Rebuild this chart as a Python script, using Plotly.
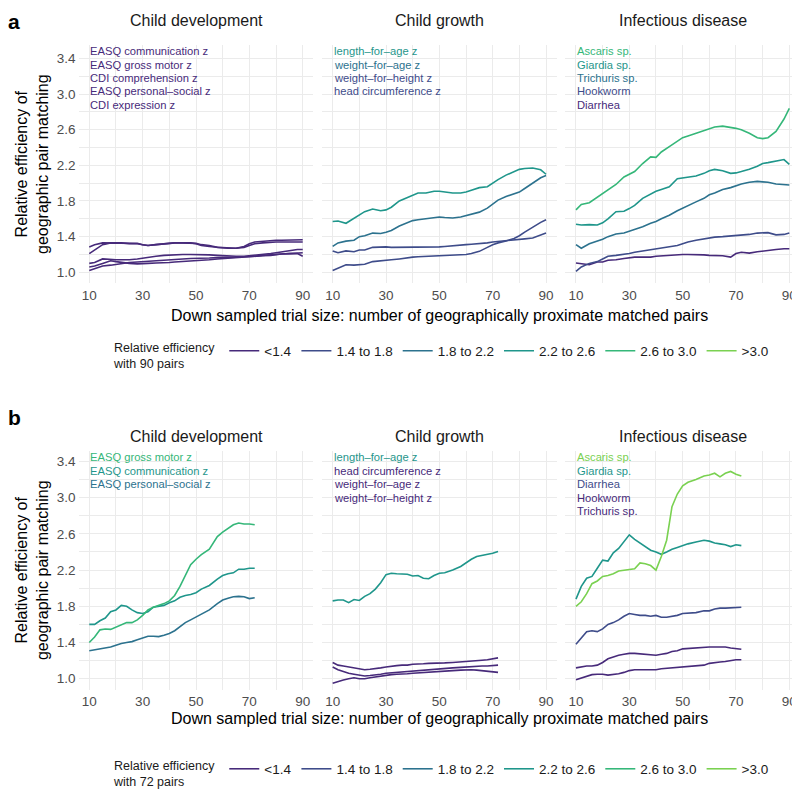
import plotly.graph_objects as go

# ---------------- data ----------------
CATEGORIES = ["<1.4", "1.4 to 1.8", "1.8 to 2.2", "2.2 to 2.6", "2.6 to 3.0", ">3.0"]
COLORS = ["#472a7a", "#3e4c8a", "#2c728e", "#1f968b", "#35b779", "#7ad151"]
FACETS = ["Child development", "Child growth", "Infectious disease"]
X_TICKS = [10, 30, 50, 70, 90]
Y_TICKS = [1.0, 1.4, 1.8, 2.2, 2.6, 3.0, 3.4]

# panel a: down-sampled from 90 pairs
X_A = [10, 12, 15, 18, 20, 22, 25, 28, 30, 32, 35, 38, 40, 42, 45, 48, 50, 52, 55, 58,
       60, 62, 65, 68, 70, 72, 75, 78, 80, 82, 85, 88, 90]

a_dev_comm = [1.285, 1.31, 1.33, 1.33, 1.33, 1.33, 1.33, 1.325, 1.31, 1.30, 1.31, 1.32, 1.325, 1.33, 1.33, 1.33, 1.325, 1.31, 1.30, 1.28,
              1.275, 1.275, 1.27, 1.29, 1.32, 1.34, 1.35, 1.355, 1.36, 1.36, 1.36, 1.365, 1.365]
a_dev_gross = [1.21, 1.25, 1.31, 1.33, 1.33, 1.33, 1.32, 1.32, 1.31, 1.30, 1.31, 1.32, 1.33, 1.33, 1.33, 1.33, 1.32, 1.30, 1.29, 1.28,
               1.275, 1.27, 1.27, 1.28, 1.30, 1.32, 1.33, 1.34, 1.34, 1.34, 1.34, 1.345, 1.34]
a_dev_cdicomp = [1.10, 1.11, 1.15, 1.14, 1.14, 1.14, 1.14, 1.15, 1.16, 1.17, 1.18, 1.19, 1.195, 1.20, 1.20, 1.20, 1.20, 1.20, 1.195, 1.19,
                 1.185, 1.18, 1.18, 1.18, 1.185, 1.19, 1.20, 1.21, 1.22, 1.23, 1.245, 1.255, 1.255]
a_dev_personal = [1.02, 1.04, 1.07, 1.08, 1.09, 1.10, 1.11, 1.115, 1.12, 1.125, 1.13, 1.135, 1.14, 1.145, 1.15, 1.155, 1.155, 1.16, 1.16, 1.165,
                  1.165, 1.17, 1.17, 1.175, 1.175, 1.18, 1.19, 1.20, 1.20, 1.205, 1.21, 1.215, 1.22]
a_dev_cdiexpr = [1.06, 1.07, 1.10, 1.13, 1.12, 1.11, 1.10, 1.095, 1.095, 1.10, 1.105, 1.105, 1.11, 1.115, 1.12, 1.13, 1.13, 1.135, 1.14, 1.15,
                 1.155, 1.16, 1.165, 1.17, 1.175, 1.18, 1.185, 1.19, 1.20, 1.205, 1.21, 1.21, 1.18]

a_gro_lfa = [1.57, 1.575, 1.55, 1.61, 1.65, 1.68, 1.71, 1.69, 1.70, 1.73, 1.80, 1.84, 1.86, 1.89, 1.89, 1.91, 1.91, 1.90, 1.89, 1.89,
             1.90, 1.92, 1.95, 1.96, 2.00, 2.04, 2.09, 2.13, 2.155, 2.165, 2.17, 2.15, 2.10]
a_gro_wfa = [1.29, 1.33, 1.35, 1.36, 1.40, 1.41, 1.44, 1.435, 1.45, 1.47, 1.52, 1.56, 1.58, 1.59, 1.60, 1.61, 1.62, 1.615, 1.61, 1.62,
             1.635, 1.65, 1.675, 1.72, 1.77, 1.81, 1.85, 1.88, 1.90, 1.94, 2.00, 2.06, 2.085]
a_gro_wfh = [1.02, 1.045, 1.085, 1.08, 1.085, 1.09, 1.12, 1.125, 1.135, 1.14, 1.15, 1.165, 1.17, 1.175, 1.18, 1.185, 1.19, 1.19, 1.19, 1.195,
             1.20, 1.21, 1.235, 1.28, 1.31, 1.33, 1.35, 1.38, 1.41, 1.45, 1.51, 1.56, 1.59]
a_gro_hc = [1.24, 1.22, 1.24, 1.23, 1.25, 1.25, 1.28, 1.285, 1.285, 1.28, 1.28, 1.28, 1.28, 1.28, 1.28, 1.285, 1.285, 1.29, 1.295, 1.30,
            1.31, 1.315, 1.32, 1.33, 1.34, 1.345, 1.35, 1.36, 1.37, 1.375, 1.385, 1.415, 1.44]

a_inf_ascaris = [1.70, 1.76, 1.78, 1.84, 1.89, 1.93, 1.985, 2.07, 2.10, 2.13, 2.22, 2.295, 2.29, 2.35, 2.41, 2.465, 2.51, 2.53, 2.56, 2.59,
                 2.615, 2.63, 2.64, 2.63, 2.615, 2.60, 2.56, 2.51, 2.50, 2.51, 2.58, 2.72, 2.84]
a_inf_giardia = [1.54, 1.53, 1.535, 1.53, 1.555, 1.60, 1.68, 1.685, 1.715, 1.75, 1.83, 1.88, 1.91, 1.93, 1.96, 2.05, 2.06, 2.07, 2.08, 2.11,
                 2.14, 2.155, 2.14, 2.11, 2.115, 2.13, 2.155, 2.19, 2.22, 2.23, 2.245, 2.265, 2.21]
a_inf_trichuris = [1.31, 1.27, 1.32, 1.35, 1.37, 1.40, 1.43, 1.44, 1.46, 1.48, 1.51, 1.55, 1.57, 1.60, 1.64, 1.69, 1.72, 1.75, 1.79, 1.83,
                   1.87, 1.89, 1.93, 1.95, 1.97, 1.99, 2.01, 2.02, 2.015, 2.01, 1.99, 1.98, 1.98]
a_inf_hookworm = [1.01, 1.06, 1.10, 1.12, 1.15, 1.18, 1.19, 1.20, 1.21, 1.225, 1.24, 1.255, 1.265, 1.275, 1.285, 1.30, 1.32, 1.34, 1.36, 1.375,
                  1.39, 1.395, 1.40, 1.405, 1.41, 1.415, 1.425, 1.44, 1.445, 1.445, 1.42, 1.425, 1.44]
a_inf_diarrhea = [1.105, 1.10, 1.085, 1.115, 1.115, 1.135, 1.14, 1.155, 1.165, 1.17, 1.17, 1.17, 1.18, 1.185, 1.19, 1.20, 1.20, 1.20, 1.20, 1.195,
                  1.19, 1.19, 1.185, 1.17, 1.21, 1.225, 1.215, 1.23, 1.235, 1.245, 1.255, 1.265, 1.265]

# panel b: down-sampled from 72 pairs
X_B = [10, 12, 14, 16, 18, 20, 22, 24, 26, 28, 30, 32, 34, 36, 38, 40, 42, 44, 46, 48,
       50, 52, 55, 58, 60, 62, 64, 66, 68, 70, 72]

b_dev_gross = [1.40, 1.46, 1.54, 1.55, 1.545, 1.57, 1.60, 1.62, 1.62, 1.65, 1.70, 1.76, 1.79, 1.81, 1.83, 1.86, 1.92, 2.02, 2.14, 2.26,
               2.32, 2.37, 2.43, 2.57, 2.62, 2.66, 2.70, 2.72, 2.71, 2.71, 2.70]
b_dev_comm = [1.60, 1.60, 1.64, 1.67, 1.74, 1.76, 1.81, 1.80, 1.76, 1.73, 1.72, 1.74, 1.79, 1.80, 1.81, 1.84, 1.86, 1.90, 1.92, 1.93,
              1.95, 1.99, 2.03, 2.10, 2.14, 2.16, 2.17, 2.21, 2.21, 2.22, 2.22]
b_dev_personal = [1.31, 1.32, 1.33, 1.335, 1.35, 1.37, 1.39, 1.40, 1.41, 1.43, 1.45, 1.47, 1.47, 1.465, 1.48, 1.50, 1.53, 1.58, 1.62, 1.65,
                  1.68, 1.71, 1.76, 1.83, 1.87, 1.89, 1.905, 1.91, 1.905, 1.885, 1.895]

b_gro_lfa = [1.86, 1.87, 1.87, 1.84, 1.875, 1.865, 1.91, 1.94, 1.99, 2.06, 2.15, 2.165, 2.16, 2.155, 2.155, 2.135, 2.14, 2.11, 2.105, 2.14,
             2.165, 2.17, 2.20, 2.24, 2.28, 2.32, 2.35, 2.36, 2.37, 2.385, 2.405]
b_gro_hc = [1.18, 1.15, 1.14, 1.13, 1.12, 1.11, 1.10, 1.105, 1.11, 1.12, 1.13, 1.14, 1.145, 1.15, 1.15, 1.16, 1.16, 1.165, 1.17, 1.17,
            1.17, 1.175, 1.18, 1.185, 1.19, 1.195, 1.20, 1.205, 1.21, 1.22, 1.23]
b_gro_wfa = [1.13, 1.10, 1.08, 1.06, 1.05, 1.04, 1.03, 1.035, 1.04, 1.05, 1.06, 1.065, 1.07, 1.075, 1.08, 1.09, 1.095, 1.10, 1.10, 1.105,
             1.11, 1.115, 1.12, 1.125, 1.13, 1.135, 1.14, 1.14, 1.14, 1.145, 1.15]
b_gro_wfh = [0.95, 0.97, 0.985, 1.00, 1.01, 1.00, 1.00, 1.01, 1.02, 1.03, 1.04, 1.045, 1.05, 1.05, 1.055, 1.06, 1.065, 1.07, 1.075, 1.08,
             1.08, 1.085, 1.09, 1.095, 1.10, 1.10, 1.095, 1.09, 1.085, 1.08, 1.07]

b_inf_ascaris = [1.80, 1.85, 1.94, 2.05, 2.08, 2.13, 2.14, 2.16, 2.19, 2.20, 2.205, 2.215, 2.28, 2.27, 2.25, 2.20, 2.35, 2.53, 2.90, 3.04,
                 3.13, 3.17, 3.20, 3.24, 3.25, 3.27, 3.23, 3.27, 3.29, 3.26, 3.24]
b_inf_giardia = [1.88, 2.02, 2.11, 2.13, 2.22, 2.31, 2.30, 2.39, 2.44, 2.52, 2.59, 2.54, 2.50, 2.46, 2.42, 2.40, 2.375, 2.40, 2.43, 2.45,
                 2.47, 2.49, 2.51, 2.53, 2.52, 2.50, 2.49, 2.48, 2.46, 2.48, 2.47]
b_inf_diarrhea = [1.38, 1.45, 1.52, 1.53, 1.52, 1.55, 1.60, 1.62, 1.65, 1.69, 1.72, 1.71, 1.70, 1.70, 1.69, 1.70, 1.68, 1.68, 1.69, 1.70,
                  1.72, 1.725, 1.73, 1.75, 1.75, 1.77, 1.78, 1.78, 1.785, 1.79, 1.79]
b_inf_hookworm = [1.12, 1.13, 1.14, 1.14, 1.15, 1.18, 1.22, 1.24, 1.26, 1.27, 1.28, 1.28, 1.275, 1.27, 1.26, 1.26, 1.27, 1.28, 1.30, 1.31,
                  1.33, 1.335, 1.34, 1.35, 1.35, 1.35, 1.35, 1.35, 1.34, 1.335, 1.325]
b_inf_trichuris = [0.99, 1.01, 1.03, 1.045, 1.05, 1.05, 1.04, 1.045, 1.055, 1.07, 1.09, 1.10, 1.10, 1.10, 1.10, 1.10, 1.11, 1.115, 1.12, 1.12,
                   1.13, 1.135, 1.14, 1.15, 1.17, 1.18, 1.185, 1.19, 1.20, 1.21, 1.21]

# (label, values, category index) for each facet, in label order
PANEL_A = [
    [("EASQ communication z", a_dev_comm, 0), ("EASQ gross motor z", a_dev_gross, 0),
     ("CDI comprehension z", a_dev_cdicomp, 0), ("EASQ personal\u2013social z", a_dev_personal, 0),
     ("CDI expression z", a_dev_cdiexpr, 0)],
    [("length\u2013for\u2013age z", a_gro_lfa, 3), ("weight\u2013for\u2013age z", a_gro_wfa, 2),
     ("weight\u2013for\u2013height z", a_gro_wfh, 1), ("head circumference z", a_gro_hc, 1)],
    [("Ascaris sp.", a_inf_ascaris, 4), ("Giardia sp.", a_inf_giardia, 3),
     ("Trichuris sp.", a_inf_trichuris, 2), ("Hookworm", a_inf_hookworm, 1),
     ("Diarrhea", a_inf_diarrhea, 0)],
]
PANEL_B = [
    [("EASQ gross motor z", b_dev_gross, 4), ("EASQ communication z", b_dev_comm, 3),
     ("EASQ personal\u2013social z", b_dev_personal, 2)],
    [("length\u2013for\u2013age z", b_gro_lfa, 3), ("head circumference z", b_gro_hc, 0),
     ("weight\u2013for\u2013age z", b_gro_wfa, 0), ("weight\u2013for\u2013height z", b_gro_wfh, 0)],
    [("Ascaris sp.", b_inf_ascaris, 5), ("Giardia sp.", b_inf_giardia, 3),
     ("Diarrhea", b_inf_diarrhea, 1), ("Hookworm", b_inf_hookworm, 0),
     ("Trichuris sp.", b_inf_trichuris, 0)],
]

# ---------------- layout ----------------
OFF = 8                      # the page body keeps an 8 px default margin
W, H = 800 - OFF, 789 - OFF  # figure size so it fits exactly in the window


def px(xp):
    return (xp - OFF) / W


def py(yp):
    return 1 - (yp - OFF) / H


FONT = "Liberation Sans, Arial, Helvetica, sans-serif"
X_DOM_PX = [(78.6, 313.4), (322.0, 556.7), (565.3, 800.0)]
ROWS = [
    dict(tag="a", x=X_A, panels=PANEL_A, top=45.0, bottom=283.0, yrange=[0.88, 3.55],
         lab_y0=3.48, pairs=90, legend="legend", leg_y=357, title_y=316, strip_y=20),
    dict(tag="b", x=X_B, panels=PANEL_B, top=450.6, bottom=689.6, yrange=[0.88, 3.52],
         lab_y0=3.45, pairs=72, legend="legend2", leg_y=775, title_y=718, strip_y=436),
]
GRID = "#ebebeb"

fig = go.Figure()
layout = dict(width=W, height=H, margin=dict(l=0, r=0, t=0, b=0, autoexpand=False),
              paper_bgcolor="white", plot_bgcolor="white",
              font=dict(family=FONT, color="#1a1a1a"), annotations=[])

n = 0
for r, row in enumerate(ROWS):
    for c, panel in enumerate(row["panels"]):
        n += 1
        xa = "x" if n == 1 else f"x{n}"
        ya = "y" if n == 1 else f"y{n}"
        x0, x1 = X_DOM_PX[c]
        layout["xaxis" if n == 1 else f"xaxis{n}"] = dict(
            domain=[px(x0), min(1.0, px(x1))], range=[6, 94], anchor=ya,
            tickvals=X_TICKS, ticktext=[str(v) for v in X_TICKS],
            showgrid=True, gridcolor=GRID, gridwidth=1.1, zeroline=False, showline=False,
            ticks="", ticklabelstandoff=2,
            tickfont=dict(size=13.5, color="#4d4d4d", family=FONT),
            minor=dict(tickvals=[20, 40, 60, 80], showgrid=True, gridcolor=GRID, gridwidth=0.6, ticks=""),
        )
        layout["yaxis" if n == 1 else f"yaxis{n}"] = dict(
            domain=[py(row["bottom"]), py(row["top"])], range=row["yrange"], anchor=xa,
            tickvals=Y_TICKS, ticktext=[f"{v:.1f}" for v in Y_TICKS],
            showticklabels=(c == 0),
            showgrid=True, gridcolor=GRID, gridwidth=1.1, zeroline=False, showline=False,
            ticks="", ticklabelstandoff=2,
            tickfont=dict(size=13.5, color="#4d4d4d", family=FONT),
            minor=dict(tickvals=[1.2, 1.6, 2.0, 2.4, 2.8, 3.2], showgrid=True, gridcolor=GRID,
                       gridwidth=0.6, ticks=""),
        )
        # lines (last label first so the top-listed series sit on top)
        for label, vals, cat in reversed(panel):
            fig.add_trace(go.Scatter(x=row["x"], y=vals, mode="lines", xaxis=xa, yaxis=ya,
                                     line=dict(color=COLORS[cat], width=1.6),
                                     showlegend=False, hoverinfo="skip"))
        # series labels inside the facet
        for i, (label, vals, cat) in enumerate(panel):
            layout["annotations"].append(dict(
                x=10, y=row["lab_y0"] - 0.15 * i, xref=xa, yref=ya, text=label,
                xanchor="left", yanchor="middle", showarrow=False, borderpad=0,
                font=dict(size=11.2, color=COLORS[cat], family=FONT)))
        # strip title
        layout["annotations"].append(dict(
            x=px((x0 + x1) / 2), y=py(row["strip_y"]), xref="paper", yref="paper",
            text=FACETS[c], showarrow=False, xanchor="center", yanchor="middle",
            font=dict(size=16, color="#1a1a1a", family=FONT)))

    # legend entries
    for k, cat in enumerate(CATEGORIES):
        fig.add_trace(go.Scatter(x=[None], y=[None], mode="lines", name=cat,
                                 line=dict(color=COLORS[k], width=1.6),
                                 xaxis="x", yaxis="y", legend=row["legend"], showlegend=True))
    layout[row["legend"]] = dict(
        orientation="h", x=px(112), xanchor="left", y=py(row["leg_y"]), yanchor="middle",
        title=dict(text=f"Relative efficiency<br>with {row['pairs']} pairs", side="left",
                   font=dict(size=12.5, color="#1a1a1a", family=FONT)),
        font=dict(size=13.5, color="#1a1a1a", family=FONT), bgcolor="rgba(0,0,0,0)",
        tracegroupgap=0, itemwidth=30)

    # x axis title
    layout["annotations"].append(dict(
        x=px((78.6 + 800) / 2), y=py(row["title_y"]), xref="paper", yref="paper",
        text="Down sampled trial size: number of geographically proximate matched pairs",
        showarrow=False, xanchor="center", yanchor="middle",
        font=dict(size=16, color="#000000", family=FONT)))
    # y axis title
    layout["annotations"].append(dict(
        x=px(32), y=py((row["top"] + row["bottom"]) / 2), xref="paper", yref="paper",
        text="Relative efficiency of<br>geographic pair matching", textangle=-90,
        showarrow=False, xanchor="center", yanchor="middle",
        font=dict(size=16, color="#000000", family=FONT)))

# panel tags
layout["annotations"].append(dict(
    x=px(6), y=1.0, xref="paper", yref="paper", text="<b>a</b>", showarrow=False,
    xanchor="left", yanchor="top", font=dict(size=21, color="#000000", family=FONT)))
layout["annotations"].append(dict(
    x=px(6), y=py(418), xref="paper", yref="paper", text="<b>b</b>", showarrow=False,
    xanchor="left", yanchor="middle", font=dict(size=21, color="#000000", family=FONT)))

fig.update_layout(**layout)
fig.write_html("out.html")
